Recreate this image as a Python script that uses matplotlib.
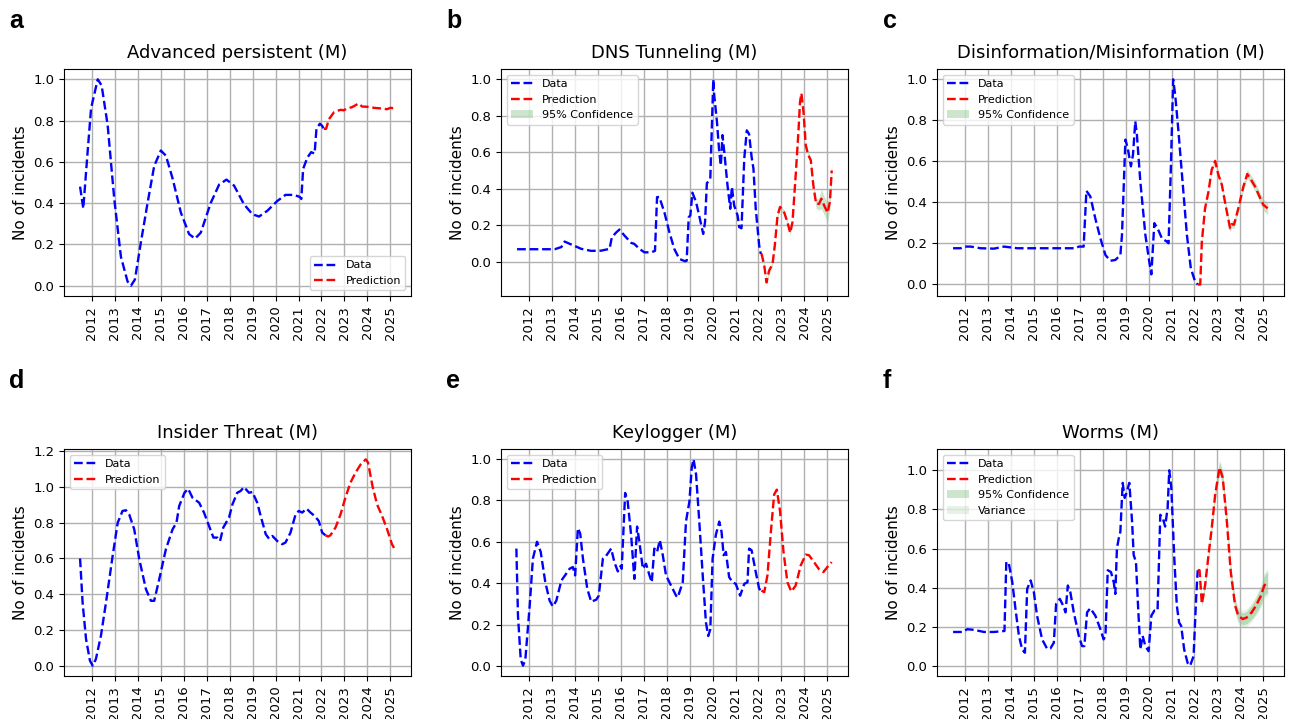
import matplotlib
matplotlib.use("Agg")
import matplotlib.pyplot as plt

# ------------------------------
# Шкала років
years = list(range(2012, 2026))

# ------------------------------
# a: Advanced persistent (M)
apt_data_x = [2011.48, 2011.62, 2011.81, 2011.96, 2012.25, 2012.42, 2012.68, 2012.97, 2013.26, 2013.55,
              2013.70, 2013.87, 2014.13, 2014.42, 2014.71, 2015.00, 2015.22, 2015.51, 2015.87, 2016.23,
              2016.49, 2016.74, 2017.17, 2017.54, 2017.86, 2018.19, 2018.62, 2018.99, 2019.28, 2019.64,
              2020.07, 2020.43, 2020.80, 2021.06, 2021.12, 2021.20, 2021.38, 2021.55, 2021.70, 2021.78,
              2021.93, 2022.03, 2022.10]
apt_data_y = [0.48, 0.374, 0.65, 0.86, 1.0, 0.97, 0.78, 0.42, 0.14, 0.02,
              0.0, 0.03, 0.21, 0.40, 0.58, 0.655, 0.63, 0.52, 0.355, 0.25,
              0.228, 0.257, 0.40, 0.49, 0.514, 0.485, 0.395, 0.346, 0.335, 0.363,
              0.41, 0.44, 0.44, 0.43, 0.42, 0.566, 0.62, 0.647, 0.64, 0.76,
              0.785, 0.774, 0.76]
apt_pred_x = [2022.10, 2022.20, 2022.32, 2022.54, 2022.68, 2022.83, 2022.97, 2023.12, 2023.33, 2023.62,
              2023.77, 2023.99, 2024.28, 2024.57, 2024.86, 2025.00, 2025.19]
apt_pred_y = [0.76, 0.76, 0.806, 0.84, 0.847, 0.852, 0.85, 0.859, 0.865, 0.883,
              0.868, 0.867, 0.862, 0.859, 0.855, 0.862, 0.859]

# ------------------------------
# b: DNS Tunneling (M)
dns_data_x = [2011.48, 2013.12, 2013.41, 2013.55, 2013.84, 2014.28, 2014.71, 2015.14, 2015.51, 2015.61,
              2015.80, 2015.94, 2016.16, 2016.45, 2016.59, 2016.81, 2017.03, 2017.32, 2017.49, 2017.58,
              2017.68, 2017.90, 2018.12, 2018.33, 2018.55, 2018.80, 2018.87, 2018.96, 2019.03, 2019.12,
              2019.28, 2019.43, 2019.59, 2019.67, 2019.75, 2019.86, 2019.90, 2020.03, 2020.07, 2020.19,
              2020.29, 2020.36, 2020.43, 2020.51, 2020.65, 2020.77, 2020.84, 2020.94, 2021.09, 2021.16,
              2021.26, 2021.38, 2021.49, 2021.59, 2021.70, 2021.78, 2021.88, 2022.03, 2022.10]
dns_data_y = [0.068, 0.068, 0.08, 0.11, 0.094, 0.07, 0.059, 0.06, 0.07, 0.134,
              0.16, 0.176, 0.143, 0.103, 0.097, 0.07, 0.051, 0.051, 0.059, 0.354,
              0.354, 0.27, 0.16, 0.07, 0.015, 0.002, 0.005, 0.244, 0.253, 0.378,
              0.327, 0.244, 0.152, 0.216, 0.43, 0.446, 0.455, 1.0, 0.914, 0.767,
              0.60, 0.528, 0.694, 0.60, 0.418, 0.29, 0.409, 0.308, 0.253, 0.189,
              0.183, 0.565, 0.72, 0.70, 0.574, 0.51, 0.29, 0.088, 0.042]
dns_pred_x = [2022.10, 2022.14, 2022.25, 2022.35, 2022.46, 2022.61, 2022.71, 2022.83, 2022.94, 2023.12,
              2023.26, 2023.38, 2023.48, 2023.62, 2023.74, 2023.81, 2023.87, 2023.96, 2024.06, 2024.16,
              2024.28, 2024.39, 2024.51, 2024.64, 2024.74, 2024.86, 2025.01, 2025.11, 2025.19]
dns_pred_y = [0.042, 0.04, -0.022, -0.114, -0.05, -0.013, 0.088, 0.253, 0.30, 0.27,
              0.216, 0.158, 0.216, 0.473, 0.712, 0.877, 0.923, 0.822, 0.638, 0.587,
              0.556, 0.418, 0.317, 0.317, 0.345, 0.308, 0.268, 0.327, 0.50]
dns_conf = [0.005, 0.008, 0.012, 0.018, 0.015, 0.012, 0.012, 0.012, 0.012, 0.012,
            0.012, 0.012, 0.012, 0.015, 0.015, 0.015, 0.015, 0.015, 0.015, 0.015,
            0.015, 0.02, 0.025, 0.035, 0.055, 0.05, 0.055, 0.04, 0.05]

# ------------------------------
# c: Disinformation/Misinformation (M)
dis_data_x = [2011.48, 2011.81, 2011.96, 2012.25, 2012.68, 2013.26, 2013.70, 2014.28, 2015.14, 2016.30,
              2016.81, 2016.96, 2017.17, 2017.29, 2017.46, 2017.68, 2017.90, 2018.12, 2018.33, 2018.55,
              2018.77, 2018.84, 2018.99, 2019.09, 2019.23, 2019.32, 2019.42, 2019.49, 2019.64, 2019.86,
              2020.03, 2020.12, 2020.25, 2020.39, 2020.58, 2020.80, 2020.87, 2020.97, 2021.07, 2021.16,
              2021.30, 2021.49, 2021.67, 2021.84, 2022.03, 2022.14]
dis_data_y = [0.176, 0.176, 0.184, 0.184, 0.176, 0.174, 0.184, 0.176, 0.176, 0.176,
              0.176, 0.184, 0.184, 0.455, 0.428, 0.32, 0.224, 0.143, 0.115, 0.119,
              0.143, 0.24, 0.704, 0.663, 0.574, 0.63, 0.793, 0.728, 0.50, 0.24,
              0.11, 0.049, 0.298, 0.273, 0.224, 0.208, 0.20, 0.566, 0.997, 0.92,
              0.745, 0.485, 0.24, 0.078, 0.013, 0.0]
dis_pred_x = [2022.14, 2022.25, 2022.32, 2022.46, 2022.61, 2022.75, 2022.90, 2023.04, 2023.19, 2023.38,
              2023.55, 2023.62, 2023.72, 2023.91, 2024.13, 2024.30, 2024.42, 2024.64, 2024.83, 2025.00,
              2025.19]
dis_pred_y = [0.0, 0.0, 0.208, 0.37, 0.452, 0.558, 0.60, 0.533, 0.485, 0.37,
              0.273, 0.293, 0.29, 0.37, 0.476, 0.537, 0.517, 0.476, 0.428, 0.387,
              0.37]
dis_conf = [0.004, 0.006, 0.01, 0.012, 0.012, 0.012, 0.014, 0.014, 0.015, 0.015,
            0.018, 0.018, 0.018, 0.018, 0.02, 0.022, 0.022, 0.025, 0.025, 0.028,
            0.03]

# ------------------------------
# d: Insider Threat (M)
ins_data_x = [2011.48, 2011.59, 2011.74, 2011.91, 2012.03, 2012.17, 2012.39, 2012.61, 2012.90, 2013.12,
              2013.33, 2013.48, 2013.62, 2013.84, 2014.06, 2014.35, 2014.57, 2014.71, 2014.93, 2015.22,
              2015.51, 2015.68, 2015.80, 2016.03, 2016.19, 2016.38, 2016.67, 2016.88, 2017.10, 2017.29,
              2017.46, 2017.58, 2017.72, 2017.97, 2018.12, 2018.33, 2018.48, 2018.62, 2018.84, 2018.99,
              2019.20, 2019.35, 2019.57, 2019.71, 2019.86, 2020.07, 2020.29, 2020.43, 2020.65, 2020.87,
              2021.01, 2021.16, 2021.35, 2021.52, 2021.70, 2021.88, 2022.03, 2022.17]
ins_data_y = [0.60, 0.354, 0.149, 0.028, 0.0, 0.037, 0.168, 0.354, 0.615, 0.80,
              0.866, 0.87, 0.847, 0.763, 0.596, 0.428, 0.363, 0.363, 0.484, 0.652,
              0.763, 0.80, 0.894, 0.968, 0.99, 0.94, 0.912, 0.857, 0.782, 0.717,
              0.717, 0.698, 0.773, 0.829, 0.903, 0.968, 0.978, 1.0, 0.968, 0.972,
              0.912, 0.838, 0.736, 0.711, 0.726, 0.698, 0.68, 0.689, 0.745, 0.847,
              0.866, 0.857, 0.879, 0.857, 0.838, 0.81, 0.745, 0.73]
ins_pred_x = [2022.17, 2022.29, 2022.39, 2022.61, 2022.83, 2023.04, 2023.26, 2023.48, 2023.71, 2023.93,
              2024.03, 2024.22, 2024.42, 2024.64, 2024.86, 2025.07, 2025.19]
ins_pred_y = [0.73, 0.723, 0.73, 0.773, 0.847, 0.94, 1.024, 1.08, 1.127, 1.155,
              1.136, 1.006, 0.903, 0.838, 0.763, 0.68, 0.652]

# ------------------------------
# e: Keylogger (M)
key_data_x = [2011.45, 2011.52, 2011.64, 2011.74, 2011.84, 2012.03, 2012.17, 2012.35, 2012.51, 2012.71,
              2012.90, 2013.04, 2013.19, 2013.41, 2013.62, 2013.77, 2013.91, 2014.01, 2014.13, 2014.23,
              2014.35, 2014.54, 2014.71, 2014.93, 2015.04, 2015.22, 2015.36, 2015.58, 2015.72, 2015.87,
              2015.99, 2016.04, 2016.19, 2016.30, 2016.45, 2016.59, 2016.71, 2016.81, 2016.96, 2017.10,
              2017.25, 2017.35, 2017.46, 2017.58, 2017.70, 2017.83, 2017.97, 2018.19, 2018.41, 2018.48,
              2018.70, 2018.84, 2018.99, 2019.09, 2019.17, 2019.28, 2019.42, 2019.57, 2019.71, 2019.81,
              2019.90, 2020.00, 2020.14, 2020.29, 2020.39, 2020.48, 2020.58, 2020.72, 2020.87, 2021.01,
              2021.20, 2021.38, 2021.52, 2021.59, 2021.70, 2021.88, 2022.03, 2022.13]
key_data_y = [0.567, 0.243, 0.032, 0.003, 0.032, 0.292, 0.519, 0.60, 0.551, 0.405,
              0.316, 0.288, 0.316, 0.413, 0.446, 0.47, 0.478, 0.438, 0.665, 0.64,
              0.519, 0.373, 0.311, 0.321, 0.34, 0.519, 0.532, 0.567, 0.502, 0.457,
              0.483, 0.47, 0.835, 0.794, 0.632, 0.421, 0.673, 0.60, 0.47, 0.494,
              0.438, 0.405, 0.567, 0.551, 0.608, 0.535, 0.438, 0.389, 0.34, 0.332,
              0.405, 0.697, 0.794, 0.956, 0.997, 0.924, 0.697, 0.438, 0.211, 0.146,
              0.178, 0.519, 0.632, 0.697, 0.648, 0.535, 0.551, 0.43, 0.405, 0.397,
              0.34, 0.397, 0.405, 0.567, 0.559, 0.454, 0.373, 0.365]
key_pred_x = [2022.13, 2022.25, 2022.39, 2022.54, 2022.68, 2022.80, 2022.94, 2023.09, 2023.26, 2023.43,
              2023.62, 2023.84, 2024.06, 2024.20, 2024.42, 2024.64, 2024.83, 2025.00, 2025.19]
key_pred_y = [0.365, 0.357, 0.438, 0.648, 0.827, 0.851, 0.746, 0.551, 0.405, 0.36,
              0.389, 0.486, 0.538, 0.535, 0.502, 0.467, 0.454, 0.478, 0.502]

# ------------------------------
# f: Worms (M)
wrm_data_x = [2011.48, 2011.88, 2012.10, 2012.39, 2012.83, 2013.26, 2013.62, 2013.72, 2013.80, 2013.91,
              2014.06, 2014.20, 2014.35, 2014.49, 2014.61, 2014.71, 2014.86, 2015.00, 2015.14, 2015.36,
              2015.58, 2015.72, 2015.87, 2015.97, 2016.13, 2016.28, 2016.38, 2016.48, 2016.59, 2016.74,
              2016.96, 2017.10, 2017.20, 2017.32, 2017.46, 2017.68, 2017.90, 2018.04, 2018.12, 2018.22,
              2018.36, 2018.48, 2018.55, 2018.62, 2018.70, 2018.77, 2018.87, 2018.96, 2019.06, 2019.16,
              2019.28, 2019.35, 2019.45, 2019.54, 2019.64, 2019.74, 2019.86, 2020.00, 2020.12, 2020.25,
              2020.39, 2020.51, 2020.62, 2020.72, 2020.83, 2020.90, 2020.99, 2021.12, 2021.23, 2021.33,
              2021.42, 2021.55, 2021.70, 2021.81, 2021.96, 2022.07, 2022.14]
wrm_data_y = [0.175, 0.175, 0.189, 0.186, 0.175, 0.175, 0.179, 0.18, 0.533, 0.524,
              0.43, 0.292, 0.155, 0.086, 0.069, 0.395, 0.438, 0.378, 0.258, 0.137,
              0.089, 0.091, 0.12, 0.318, 0.344, 0.309, 0.275, 0.412, 0.378, 0.275,
              0.155, 0.103, 0.103, 0.275, 0.296, 0.258, 0.189, 0.137, 0.155, 0.49,
              0.481, 0.43, 0.369, 0.601, 0.653, 0.687, 0.936, 0.859, 0.893, 0.936,
              0.739, 0.567, 0.533, 0.309, 0.086, 0.155, 0.103, 0.077, 0.258, 0.284,
              0.284, 0.773, 0.756, 0.713, 0.808, 1.0, 0.911, 0.55, 0.309, 0.223,
              0.206, 0.086, 0.017, 0.003, 0.052, 0.344, 0.49]
wrm_pred_x = [2022.14, 2022.22, 2022.32, 2022.46, 2022.61, 2022.75, 2022.90, 2023.09, 2023.23, 2023.41,
              2023.58, 2023.77, 2023.91, 2024.10, 2024.28, 2024.49, 2024.68, 2024.90, 2025.04, 2025.19]
wrm_pred_y = [0.49, 0.49, 0.318, 0.412, 0.567, 0.704, 0.876, 1.014, 0.962, 0.739,
              0.481, 0.309, 0.258, 0.241, 0.249, 0.275, 0.309, 0.361, 0.412, 0.43]
wrm_conf = [0.005, 0.008, 0.012, 0.015, 0.018, 0.02, 0.025, 0.03, 0.03, 0.03,
            0.03, 0.03, 0.03, 0.03, 0.032, 0.035, 0.04, 0.045, 0.05, 0.055]
wrm_var = [0.008, 0.012, 0.018, 0.022, 0.025, 0.03, 0.035, 0.042, 0.04, 0.04,
           0.04, 0.04, 0.042, 0.045, 0.045, 0.048, 0.052, 0.058, 0.065, 0.07]


# ------------------------------
# Малювання однієї панелі
def draw_panel(ax, title, dx, dy, px, py, conf=None, var=None, loc='upper left'):
    ax.plot(dx, dy, 'b--', lw=1.7, label='Data')
    ax.plot(px, py, 'r--', lw=1.7, label='Prediction')
    if conf is not None:
        lo = [y - c for y, c in zip(py, conf)]
        hi = [y + c for y, c in zip(py, conf)]
        ax.fill_between(px, lo, hi, color='green', alpha=0.2, linewidth=0, label='95% Confidence')
    if var is not None:
        lo = [y - v for y, v in zip(py, var)]
        hi = [y + v for y, v in zip(py, var)]
        ax.fill_between(px, lo, hi, color='green', alpha=0.1, linewidth=0, label='Variance')
    ax.set_title(title, fontsize=13, pad=8)
    ax.set_ylabel('No of incidents', fontsize=11)
    ax.set_xticks(years)
    ax.set_xticklabels([str(y) for y in years], rotation=90)
    ax.set_xlim(2010.78, 2025.9)
    ax.tick_params(labelsize=9.5)
    ax.grid(True, linewidth=1.0)
    ax.legend(loc=loc, fontsize=8)


fig = plt.figure(figsize=(12.91, 7.19), dpi=100)
W, H = 1291, 719
lefts = [64, 501, 937]
panels = [
    ('a', 'Advanced persistent (M)', apt_data_x, apt_data_y, apt_pred_x, apt_pred_y, None, None, 'lower right'),
    ('b', 'DNS Tunneling (M)', dns_data_x, dns_data_y, dns_pred_x, dns_pred_y, dns_conf, None, 'upper left'),
    ('c', 'Disinformation/Misinformation (M)', dis_data_x, dis_data_y, dis_pred_x, dis_pred_y, dis_conf, None, 'upper left'),
    ('d', 'Insider Threat (M)', ins_data_x, ins_data_y, ins_pred_x, ins_pred_y, None, None, 'upper left'),
    ('e', 'Keylogger (M)', key_data_x, key_data_y, key_pred_x, key_pred_y, None, None, 'upper left'),
    ('f', 'Worms (M)', wrm_data_x, wrm_data_y, wrm_pred_x, wrm_pred_y, wrm_conf, wrm_var, 'upper left'),
]
tops = [69, 449]
letter_x = [9, 446, 883]
letter_y = [28, 388]

for i, (letter, title, dx, dy, px, py, conf, var, loc) in enumerate(panels):
    row, col = divmod(i, 3)
    top = tops[row]
    ax = fig.add_axes([lefts[col] / W, 1 - (top + 227) / H, 347 / W, 227 / H])
    draw_panel(ax, title, dx, dy, px, py, conf, var, loc)
    fig.text(letter_x[col] / W, 1 - letter_y[row] / H, letter, fontsize=18,
             fontweight='bold', family='Liberation Sans', va='baseline')

fig.savefig('out.png', dpi=100)
